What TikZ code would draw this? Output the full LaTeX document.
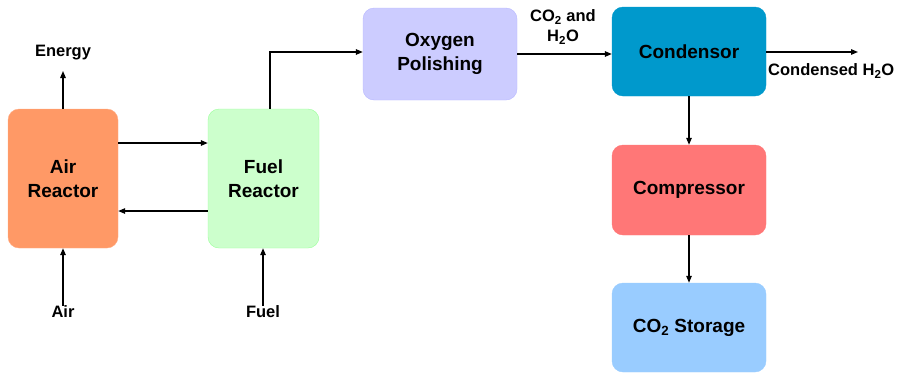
\documentclass[tikz,border=0pt]{standalone}
\usepackage{fontspec}
\setmainfont{Liberation Sans}
\usetikzlibrary{arrows.meta}
\definecolor{airc}{HTML}{FF9966}
\definecolor{fuelc}{HTML}{CCFFCC}
\definecolor{oxyc}{HTML}{CCCCFF}
\definecolor{condc}{HTML}{0099CC}
\definecolor{compc}{HTML}{FF7777}
\definecolor{storc}{HTML}{99CCFF}
\tikzset{
  box/.style={rounded corners=11pt, minimum width=#1, align=center, inner sep=0pt,
    font=\fontsize{19}{24}\selectfont\bfseries},
  lbl/.style={font=\fontsize{16.5}{20}\selectfont\bfseries, inner sep=0pt, align=center},
  flow/.style={line width=1.3pt, -{Triangle[length=7pt,width=5.5pt]}}
}
\begin{document}
\begin{tikzpicture}[x=1pt,y=-1pt]
\useasboundingbox (0,0) rectangle (901,373);
\node[box=110pt, minimum height=139pt, fill=airc, draw=airc!80!white] (air) at (63,178.5) {Air\\Reactor};
\node[box=111pt, minimum height=139pt, fill=fuelc, draw=green!25!fuelc] (fuel) at (263.5,178.5) {Fuel\\Reactor};
\node[box=154pt, minimum height=92pt, fill=oxyc, draw=oxyc!90!blue] (oxy) at (440,54) {Oxygen\\Polishing};
\node[box=154pt, minimum height=89pt, fill=condc, draw=condc] (cond) at (689,51.5) {Condensor};
\node[box=154pt, minimum height=90pt, fill=compc, draw=compc] (comp) at (689,190) {Compressor};
\node[box=154pt, minimum height=89pt, fill=storc, draw=storc] (stor) at (689,327.5) {CO\textsubscript{2} Storage};

\node[lbl] (energy) at (63,53) {Energy};
\node[lbl] (airin) at (63,312) {Air};
\node[lbl] (fuelin) at (263,312) {Fuel};
\node[lbl] (co2) at (563,27) {CO\textsubscript{2} and\\H\textsubscript{2}O};
\node[lbl, anchor=west] (condh) at (768,71) {Condensed H\textsubscript{2}O};
\coordinate (out) at (858,52);

\draw[flow] (air.north) -- (63,71);
\draw[flow] (airin.north) -- (air.south);
\draw[flow] (fuelin.north) -- (fuel.south -| fuelin.north);
\draw[flow] (air.east |- 0,143) -- (fuel.west |- 0,143);
\draw[flow] (fuel.west |- 0,211) -- (air.east |- 0,211);
\draw[flow] (fuel.north -| 270,0) |- (oxy.west |- 0,52);
\draw[flow] (oxy.east) -- (cond.west |- oxy.east);
\draw[flow] (cond.east |- out) -- (out);
\draw[flow] (cond.south) -- (comp.north);
\draw[flow] (comp.south) -- (stor.north);
\end{tikzpicture}
\end{document}
